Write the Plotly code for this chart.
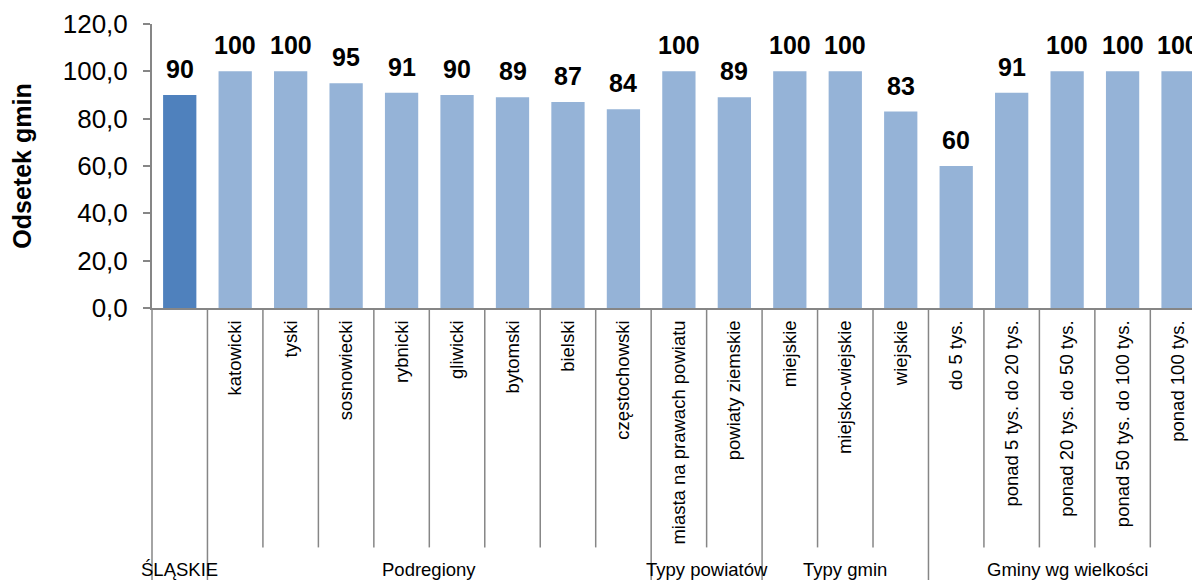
import plotly.graph_objects as go

categories = ["ŚLĄSKIE", "katowicki", "tyski", "sosnowiecki", "rybnicki", "gliwicki",
              "bytomski", "bielski", "częstochowski", "miasta na prawach powiatu",
              "powiaty ziemskie", "miejskie", "miejsko-wiejskie", "wiejskie",
              "do 5 tys.", "ponad 5 tys. do 20 tys.", "ponad 20 tys. do 50 tys.",
              "ponad 50 tys. do 100 tys.", "ponad 100 tys."]
values = [90, 100, 100, 95, 91, 90, 89, 87, 84, 100, 89, 100, 100, 83, 60, 91, 100, 100, 100]
group_names = ["ŚLĄSKIE", "Podregiony", "Typy powiatów", "Typy gmin", "Gminy wg wielkości"]
group_sizes = [1, 8, 2, 3, 5]

DARK = "#4F81BD"
LIGHT = "#95B3D7"
GRID = "#868686"
FONT = "Arial, Liberation Sans, sans-serif"

xs = list(range(len(categories)))
colors = [DARK] + [LIGHT] * (len(categories) - 1)

# the total row carries its label only in the group row below
tick_text = [""] + categories[1:]

fig = go.Figure()
fig.add_trace(go.Bar(x=xs, y=values, marker=dict(color=colors, line=dict(width=0)),
                     width=0.6, hoverinfo="skip"))

# data labels
for x, v in zip(xs, values):
    fig.add_annotation(x=x, y=v, text=f"<b>{v:.0f}</b>", showarrow=False,
                       yanchor="middle", yshift=26,
                       font=dict(size=25, color="black", family=FONT))

# separators below the axis
starts = []
s = 0
for n in group_sizes:
    starts.append(s)
    s += n
group_bounds = set(starts)
for i in range(len(categories)):
    is_group = i in group_bounds
    y1 = -1.0 if is_group else -0.843
    if i == 0:
        fig.add_shape(type="line", xref="paper", yref="paper", x0=0, x1=0, y0=0, y1=y1,
                      line=dict(color=GRID, width=1.5))
    else:
        fig.add_shape(type="line", xref="x", yref="paper", x0=i - 0.5, x1=i - 0.5,
                      y0=0, y1=y1, line=dict(color=GRID, width=1.5))

# group labels
for name, st, n in zip(group_names, starts, group_sizes):
    fig.add_annotation(x=st + (n - 1) / 2, y=-0.922, xref="x", yref="paper",
                       text=name, showarrow=False, yanchor="middle",
                       font=dict(size=18.5, color="black", family=FONT))

fig.update_layout(
    width=1200, height=580,
    margin=dict(l=144, r=0, t=16, b=280),
    plot_bgcolor="white", paper_bgcolor="white",
    separators=", ",
    showlegend=False,
    font=dict(family=FONT, color="black"),
)
fig.update_xaxes(
    range=[-0.5, 18.54], tickmode="array", tickvals=xs, ticktext=tick_text,
    tickangle=-90, showline=True, linecolor=GRID, linewidth=2, ticks="",
    tickfont=dict(size=18.5, color="black", family=FONT), automargin=False,
    showgrid=False, zeroline=False, ticklabelstandoff=3,
)
fig.update_yaxes(
    range=[0, 120], dtick=20, tick0=0, tickformat=".1f",
    showline=True, linecolor=GRID, linewidth=2, ticks="outside", ticklen=7,
    tickcolor=GRID, tickwidth=1.5,
    tickfont=dict(size=26, color="black", family=FONT), automargin=False,
    showgrid=False, zeroline=False, ticklabelstandoff=10,
    title=dict(text="<b>Odsetek gmin</b>", standoff=28,
               font=dict(size=25, color="black", family=FONT)),
)

fig.write_html("out.html")
